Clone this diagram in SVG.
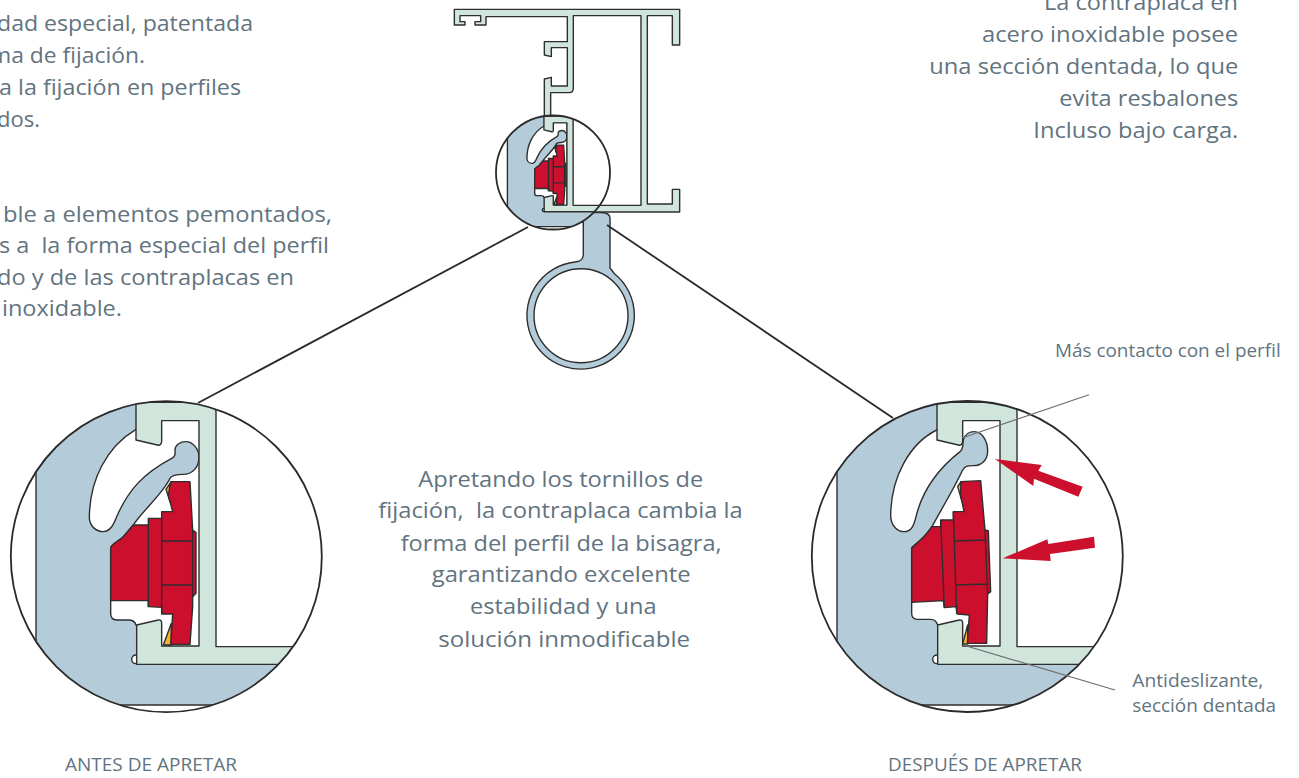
<svg xmlns="http://www.w3.org/2000/svg" xmlns:xlink="http://www.w3.org/1999/xlink" width="1299" height="778" viewBox="0 0 1299 778">
<style>
.o{stroke:#2e2e2e;stroke-width:1.4;vector-effect:non-scaling-stroke;stroke-linejoin:round}
.bl{fill:#b4ccd9}.gr{fill:#d0e6dc}.wh{fill:#fff}.re{fill:#cb0f2d}.ye{fill:#f7b02c}
.in{fill:none}
.c{fill:none;stroke:#2a2a2a;stroke-width:1.8}
.l{stroke:#2a2a2a;stroke-width:1.8;fill:none}
.g{stroke:#6e6e6e;stroke-width:1.2;fill:none}
text{font-family:"Open Sans","Noto Sans","Liberation Sans",sans-serif;fill:#627480;white-space:pre}
.t{font-size:22.5px}
.s{font-size:17.5px}
</style>
<defs>
<clipPath id="clipS"><circle cx="553" cy="172.5" r="57"/></clipPath>
<clipPath id="clipA"><circle cx="166.3" cy="556.7" r="155.5"/></clipPath>
<clipPath id="clipB"><circle cx="967.3" cy="556.5" r="155.5"/></clipPath>
<path id="blue" class="bl o" d="M108,0V850L200,950L360,945H640L800,900L950,823V800H620V43H408V0Z"/>
<g id="green">
<circle class="wh o" cx="408" cy="808" r="13"/>
<path class="gr o" d="M408,37H600C630,38 648,45 648,65V770H960V823H410V705L475,690Q485,688 485,700V768H597V92H485V155Q483,168 472,165L408,150Z"/>
</g>
<g id="artA">
<use xlink:href="#blue"/>
<path class="wh o" d="M408,118C320,170 268,270 268,385C270,410 290,425 310,425C330,425 340,405 350,380C385,300 430,250 515,205C528,198 525,190 525,180C525,165 540,155 558,155C580,155 597,180 597,200C597,235 575,253 550,253C530,253 515,255 510,265C490,310 425,365 400,405L370,440C355,455 332,462 332,475V670C332,685 340,690 350,690H385C400,690 405,695 408,705L440,720V780H600V85H440V118Z"/>
<use xlink:href="#green"/>
<path class="ye o" d="M510,280L498,298L510,335ZM514,700L490,765H514Z"/>
<path class="re o" d="M400,405H445V385H485V365H518L505,315L512,275H570L578,420L588,428V610L578,620V650L570,763H512L518,672H485V652L445,650V632H332V475C332,462 355,455 370,440Z"/>
<path class="in o" d="M445,405V650M485,385V672M485,453H578M485,585H578M578,420V620"/>
</g>
</defs>

<g id="hinge">
<path class="bl o" fill-rule="evenodd" d="M583.3,222V255Q583,261.5 575,262A53.7,53.7 0 1 0 614.5,273.7L610,268V218Q610,212.5 600,212.5H560V222ZM628,315.7A47,47 0 1 0 534,315.7A47,47 0 1 0 628,315.7Z"/>
</g>

<g id="profile" transform="translate(440,0) scale(.33333)">
<path class="gr o" d="M43,28H719V135H697V47H622V612H697V568H719V636H400V616H603V47H400V265Q400,278 388,278H332V380H313V237L334,232V258H382V143H334V170L313,165V125H382V50H138V75H105V65H122V47H60V65H75V75H43Z"/>
</g>

<g id="detail-small">
<circle class="wh" cx="553" cy="172.5" r="57"/>
<g clip-path="url(#clipS)"><use xlink:href="#artA" transform="translate(494.27,111.65) scale(.1217)"/></g>
<circle class="c" cx="553" cy="172.5" r="57"/>
</g>

<g id="connectors">
<line class="l" x1="528" y1="227" x2="198" y2="403"/>
<line class="l" x1="607" y1="225" x2="893" y2="418"/>
</g>

<g id="detail-before">
<circle class="wh" cx="166.3" cy="556.7" r="155.5"/>
<g clip-path="url(#clipA)"><use xlink:href="#artA" transform="translate(0,390) scale(.33333)"/></g>
<circle class="c" cx="166.3" cy="556.7" r="155.5"/>
</g>

<g id="detail-after">
<circle class="wh" cx="967.3" cy="556.5" r="155.5"/>
<g clip-path="url(#clipB)"><g transform="translate(800,380) scale(.33333)">
<use xlink:href="#blue" transform="translate(3,30)"/>
<path class="wh o" d="M410,150C330,190 272,290 272,410C274,440 295,455 312,455C335,455 342,435 348,410C365,340 410,270 480,215C492,205 487,195 490,180C495,162 510,155 522,155C548,155 563,185 563,212C563,240 545,257 520,257C500,257 495,258 488,270C465,320 420,395 397,438C380,470 350,490 335,503V700C335,712 342,718 352,718H392C403,718 410,725 413,735L445,750V810H603V115H445V150Z"/>
<use xlink:href="#green" transform="translate(3,30)"/>
<path class="ye o" d="M483,305L473,320L486,365ZM503,735L488,792H504Z"/>
<path class="re o" d="M335,505C345,490 370,480 395,440H422V420H460V395H492L482,345L483,305L542,302L555,450L565,452L572,635L563,642L560,790H502L508,705L472,702L468,680L433,683L430,662L335,667Z"/>
<path class="in o" d="M422,420L433,683M460,395L470,702M465,483L555,480M468,615L560,612M555,450L563,642"/>
<path class="re" d="M585,237L725,255L715,272L848,320L835,350L702,296L700,318Z"/>
<path class="re" d="M608,535L742,478L745,492L882,470L885,503L750,522L752,543Z"/>
</g></g>
<circle class="c" cx="967.3" cy="556.5" r="155.5"/>
<line class="g" x1="1089" y1="394.7" x2="962" y2="438"/>
<line class="g" x1="963" y1="645" x2="1115" y2="690"/>
</g>

<g id="text-left">
<text class="t" x="-3" y="30.7" textLength="256" lengthAdjust="spacingAndGlyphs">dad especial, patentada</text>
<text class="t" x="-10" y="62.7" textLength="155" lengthAdjust="spacingAndGlyphs">ma de fijación.</text>
<text class="t" x="-1" y="95" textLength="242" lengthAdjust="spacingAndGlyphs">a la fijación en perfiles</text>
<text class="t" x="-3" y="126.7" textLength="43" lengthAdjust="spacingAndGlyphs">dos.</text>
<text class="t" x="3" y="221.7" textLength="329" lengthAdjust="spacingAndGlyphs">ble a elementos pemontados,</text>
<text class="t" x="-1" y="253.3" textLength="330" lengthAdjust="spacingAndGlyphs">s a  la forma especial del perfil</text>
<text class="t" x="-3" y="285" textLength="297" lengthAdjust="spacingAndGlyphs">do y de las contraplacas en</text>
<text class="t" x="2" y="316" textLength="120" lengthAdjust="spacingAndGlyphs">inoxidable.</text>
</g>
<g id="text-right">
<text class="t" x="1044" y="10" textLength="194" lengthAdjust="spacingAndGlyphs">La contraplaca en</text>
<text class="t" x="982" y="42" textLength="256" lengthAdjust="spacingAndGlyphs">acero inoxidable posee</text>
<text class="t" x="929.3" y="74" textLength="309" lengthAdjust="spacingAndGlyphs">una sección dentada, lo que</text>
<text class="t" x="1059.3" y="106" textLength="179" lengthAdjust="spacingAndGlyphs">evita resbalones</text>
<text class="t" x="1033.3" y="138" textLength="205" lengthAdjust="spacingAndGlyphs">Incluso bajo carga.</text>
</g>
<g id="text-center">
<text class="t" x="418.3" y="486.7" textLength="285" lengthAdjust="spacingAndGlyphs">Apretando los tornillos de</text>
<text class="t" x="378.3" y="518.3" textLength="364.4" lengthAdjust="spacingAndGlyphs">fijación,  la contraplaca cambia la</text>
<text class="t" x="400.7" y="550.7" textLength="321" lengthAdjust="spacingAndGlyphs">forma del perfil de la bisagra,</text>
<text class="t" x="431.7" y="582.3" textLength="259" lengthAdjust="spacingAndGlyphs">garantizando excelente</text>
<text class="t" x="470" y="614.3" textLength="186.7" lengthAdjust="spacingAndGlyphs">estabilidad y una</text>
<text class="t" x="438.3" y="646.7" textLength="251.7" lengthAdjust="spacingAndGlyphs">solución inmodificable</text>
</g>
<g id="labels">
<text class="s" x="1055" y="356.7" textLength="225.7" lengthAdjust="spacingAndGlyphs">Más contacto con el perfil</text>
<text class="s" x="1132.3" y="686.7" textLength="131" lengthAdjust="spacingAndGlyphs">Antideslizante,</text>
<text class="s" x="1132.3" y="712.3" textLength="143.7" lengthAdjust="spacingAndGlyphs">sección dentada</text>
<text class="s" x="65" y="771" textLength="172" lengthAdjust="spacingAndGlyphs">ANTES DE APRETAR</text>
<text class="s" x="888" y="771" textLength="194" lengthAdjust="spacingAndGlyphs">DESPUÉS DE APRETAR</text>
</g>
</svg>
